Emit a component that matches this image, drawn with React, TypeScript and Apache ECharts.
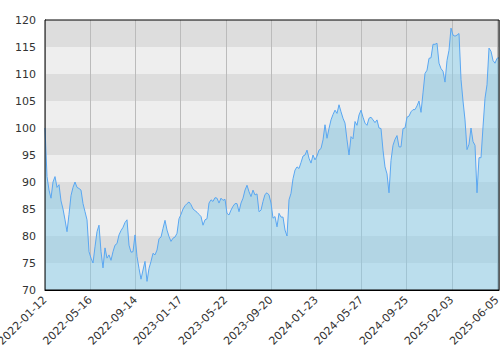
import React, { useEffect, useRef } from 'react';
import * as echarts from 'echarts';

const tickLabels = [
  '2022-01-12', '2022-05-16', '2022-09-14', '2023-01-17', '2023-05-22', '2023-09-20',
  '2024-01-23', '2024-05-27', '2024-09-25', '2025-02-03', '2025-06-05',
];

const yMin = 70;
const yMax = 120;
const yStep = 5;

const values = [
  100, 91, 88.5, 87, 90, 91, 89, 89.5, 86.5, 85,
  83, 80.8, 84, 87.5, 89, 90, 89, 88.8, 88.5, 86,
  84.5, 83, 77.1, 75.9, 75, 78, 80.8, 82, 77.1, 74.1,
  77.8, 75.9, 76.5, 75.5, 77.1, 78.3, 78.6, 80.2, 81, 81.6,
  82.5, 83, 78.3, 77, 77.1, 80.2, 76.2, 74, 72, 73.7,
  75.3, 71.6, 74, 75.3, 76.8, 76.5, 77.4, 79.5, 79.8, 81.4,
  82.9, 81.1, 79.9, 79, 79.6, 79.8, 80.5, 83.2, 84, 85,
  85.6, 86, 86.3, 85.8, 85, 84.7, 84.4, 84, 83.6, 82,
  83, 83.2, 86.1, 86.7, 86.4, 87.1, 87, 86.1, 87, 86.6,
  86.8, 84.2, 83.9, 84.8, 85.5, 86, 86, 84.5, 86.1, 87,
  88.5, 89.4, 88.2, 87.3, 88.5, 87.6, 87.8, 84.5, 84.8, 86.4,
  87.7, 88, 87.6, 86.1, 83.3, 83.6, 81.7, 84.2, 83.5, 83.5,
  81.1, 80, 86.7, 87.9, 90.6, 92.2, 92.8, 92.5, 93.6, 94.8,
  95, 95.9, 94.4, 93.5, 95, 94.1, 94.8, 95.9, 96.2, 97.8,
  100.6, 98.1, 99.9, 101.5, 102.5, 103.3, 102.7, 104.3, 103, 101.8,
  100.9, 97.8, 95, 98.4, 98, 101.2, 100.5, 102.4, 103.3, 102,
  100.9, 100.5, 101.8, 102, 101.5, 101, 101.5, 100, 99.9, 95.9,
  92.8, 91.5, 88, 94, 96.8, 97.9, 98.6, 96.5, 96.5, 99.9,
  100, 102, 102.2, 103, 103.4, 103.4, 104.1, 105, 102.9, 106.5,
  110.1, 110.7, 112.9, 113, 115.5, 115.5, 115.7, 112, 111, 110.5,
  108.5, 112.5, 114.4, 118.5, 117.2, 117, 117.2, 117.5, 109, 105,
  101.5, 96, 97, 100, 97.5, 96.8, 88, 94.5, 94.5, 100.2,
  105.5, 108, 114.8, 114.2, 112.5, 112, 112.9, 113,
];

const pointIds = values.map((_, i) => String(i));

export default function App() {
  const ref = useRef<HTMLDivElement>(null);

  useEffect(() => {
    if (!ref.current) return;
    const chart = echarts.init(ref.current, null, { renderer: 'svg' });
    const labelFont = { color: '#333', fontSize: 11, fontFamily: 'DejaVu Sans' };
    chart.setOption({
      animation: false,
      grid: {
        left: 45,
        right: 1,
        top: 20,
        bottom: 60,
        show: true,
        z: 5,
        borderColor: '#000',
        borderWidth: 1,
        backgroundColor: 'transparent',
        containLabel: false,
        outerBoundsMode: 'none',
      },
      xAxis: [
        {
          type: 'value',
          min: 0,
          max: 10.045,
          interval: 1,
          z: 1,
          axisLine: { show: true, onZero: false, lineStyle: { color: '#000', width: 1 } },
          axisTick: { show: false },
          axisLabel: {
            ...labelFont,
            rotate: 45,
            margin: 8,
            formatter: (v: number) =>
              Number.isInteger(v) && tickLabels[v] !== undefined ? tickLabels[v] : '',
          },
          splitLine: { show: true, lineStyle: { color: '#bbbbbb', width: 1 } },
        },
        {
          type: 'category',
          show: false,
          boundaryGap: false,
          data: pointIds,
        },
      ],
      yAxis: {
        type: 'value',
        min: yMin,
        max: yMax,
        interval: yStep,
        z: 0,
        axisLine: { show: true, lineStyle: { color: '#000', width: 1 } },
        axisTick: { show: false },
        axisLabel: { ...labelFont, margin: 9 },
        splitLine: { show: false },
        splitArea: { show: true, areaStyle: { color: ['#eeeeee', '#dddddd'] } },
      },
      series: [
        {
          type: 'line',
          xAxisIndex: 1,
          data: values,
          symbol: 'none',
          showSymbol: false,
          z: 2,
          lineStyle: { color: '#5aa7f2', width: 1 },
          areaStyle: { color: '#87ceeb', opacity: 0.5 },
        },
      ],
    });
    return () => chart.dispose();
  }, []);

  return (
    <div
      ref={ref}
      style={{ position: 'absolute', left: 0, top: 0, width: 500, height: 350 }}
    />
  );
}
